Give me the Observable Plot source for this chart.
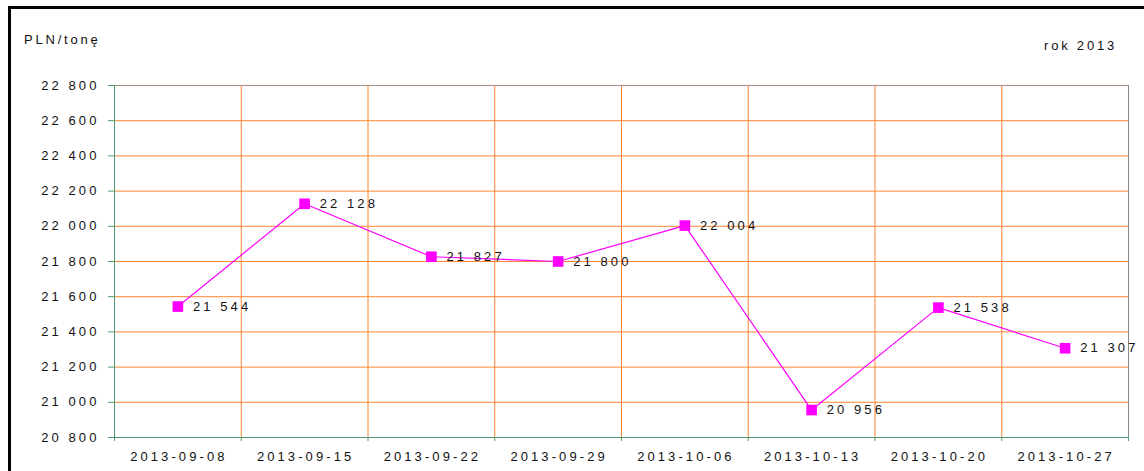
<!DOCTYPE html>
<html>
<head>
<meta charset="utf-8">
<script src="https://cdn.jsdelivr.net/npm/d3@7"></script>
<script src="https://cdn.jsdelivr.net/npm/@observablehq/plot@0.6"></script>
<style>
  html, body { margin: 0; padding: 0; background: #fff; }
  body { width: 1144px; height: 471px; position: relative; overflow: hidden;
         font-family: "Liberation Sans", Arial, sans-serif; }
  #chart { position: absolute; left: 0; top: 0; }
  .box { position: absolute; left: 8px; top: 6px; right: 0; bottom: -10px;
         border-top: 3px solid #000; border-left: 3px solid #000; }
  .lbl { position: absolute; font-size: 13px; letter-spacing: 2.8px; color: #111; white-space: nowrap; }
</style>
</head>
<body>
<div id="chart"></div>
<div class="box"></div>
<div class="lbl" style="left:24px; top:32px;">PLN/tonę</div>
<div class="lbl" style="right:27px; top:38px;">rok 2013</div>
<script>
const dates = ["2013-09-08","2013-09-15","2013-09-22","2013-09-29","2013-10-06","2013-10-13","2013-10-20","2013-10-27"];
const prices = [21544, 22128, 21827, 21800, 22004, 20956, 21538, 21307];
const yTicks = [20800, 21000, 21200, 21400, 21600, 21800, 22000, 22200, 22400, 22600, 22800];

const locale = d3.formatLocale({thousands: " ", grouping: [3], decimal: ",", currency: ["", ""]});
const fmt = locale.format(",d");

const data = dates.map((d, i) => ({date: d, idx: i + 0.5, price: prices[i]}));
const bounds = d3.range(0, dates.length + 1);          // category boundaries 0..8
const inner = d3.range(1, dates.length);                // 1..7
const centers = dates.map((d, i) => i + 0.5);

const green = "#4f9a72";
const orange = "#ff8533";
const magenta = "#ff00ff";

const chart = Plot.plot({
  width: 1144,
  height: 471,
  marginLeft: 114,
  marginRight: 16,
  marginTop: 85,
  marginBottom: 34,
  style: {fontFamily: "'Liberation Sans', Arial, sans-serif", fontSize: "13px", letterSpacing: "3.1px", color: "#111", background: "transparent"},
  x: {type: "linear", domain: [0, dates.length]},
  y: {domain: [20800, 22800]},
  marks: [
    Plot.ruleY(yTicks.slice(1, -1), {stroke: orange, strokeWidth: 1}),
    Plot.ruleX(inner, {stroke: orange, strokeWidth: 1}),
    Plot.ruleY([22800], {stroke: "#a89080", strokeWidth: 1}),
    Plot.ruleX([dates.length], {stroke: "#8a8a8a", strokeWidth: 1}),
    Plot.ruleX([0], {stroke: green, strokeWidth: 1}),
    Plot.ruleY([20800], {stroke: green, strokeWidth: 1}),
    Plot.axisY({ticks: yTicks, tickSize: 6, tickPadding: 9, tickFormat: fmt, stroke: green, fill: "#111", label: null}),
    Plot.axisX({ticks: bounds, tickSize: 4, tickFormat: () => "", stroke: green, label: null}),
    Plot.axisX({ticks: centers, tickSize: 0, tickPadding: 14, tickFormat: v => dates[Math.floor(v)], fill: "#111", label: null, dx: 1}),
    Plot.line(data, {x: "idx", y: "price", stroke: magenta, strokeWidth: 1.2}),
    Plot.dot(data, {x: "idx", y: "price", symbol: "square", r: 6, fill: magenta, stroke: "none"}),
    Plot.text(data, {x: "idx", y: "price", text: d => fmt(d.price), textAnchor: "start", dx: 15, dy: 0, fill: "#111", fontSize: 13})
  ]
});
document.getElementById("chart").appendChild(chart);
</script>
</body>
</html>
